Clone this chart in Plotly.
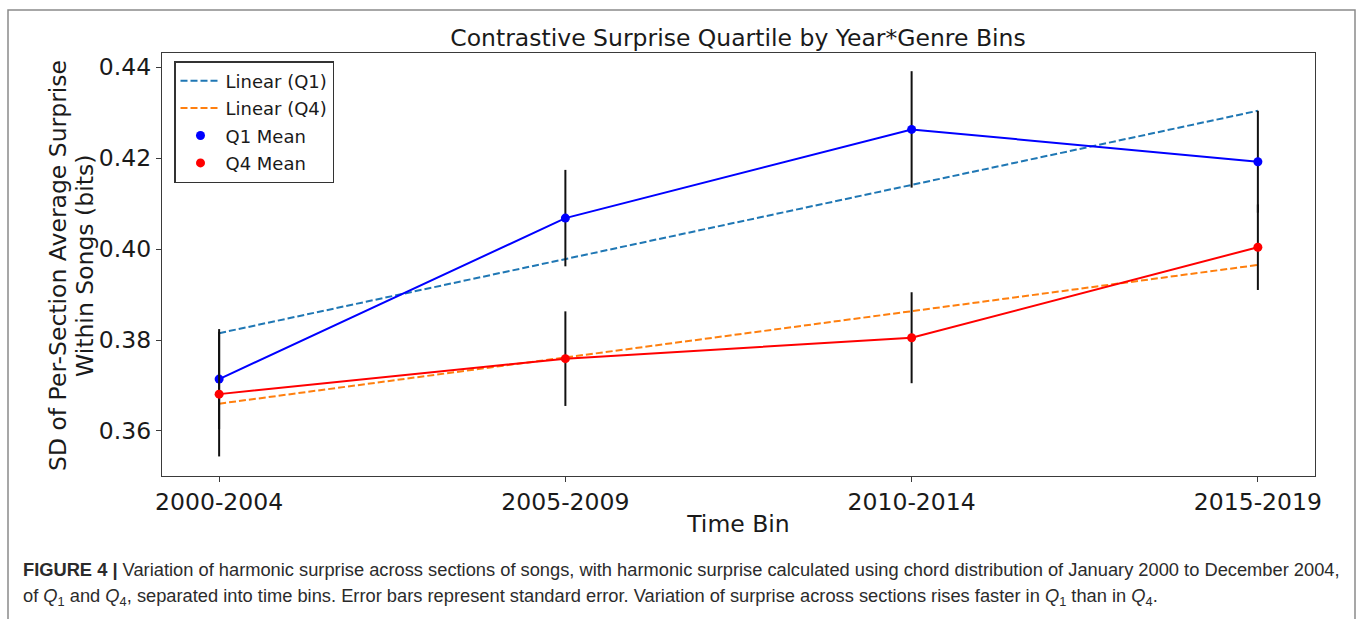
import plotly.graph_objects as go

# Time bins on the x axis
time_bins = ["2000-2004", "2005-2009", "2010-2014", "2015-2019"]

# Mean SD of per-section surprise for the first and fourth quartiles
q1_mean = [0.3714, 0.4068, 0.4263, 0.4192]
q4_mean = [0.3681, 0.3759, 0.3805, 0.4004]

# Standard errors
q1_se = [0.0110, 0.0106, 0.0128, 0.0112]
q4_se = [0.0137, 0.0104, 0.0100, 0.0094]

# Linear trend lines
q1_linear = [0.3815, 0.3978, 0.4141, 0.4304]
q4_linear = [0.3660, 0.3762, 0.3863, 0.3965]

y_ticks = [0.36, 0.38, 0.40, 0.42, 0.44]
y_title_lines = ["SD of Per-Section Average Surprise", "Within Songs (bits)"]

FONT = "DejaVu Sans"
INK = "#1a1a1a"
AXIS = "#3a3a3a"
FS = 23.5

fig = go.Figure()

fig.add_trace(go.Scatter(
    x=time_bins, y=q1_linear, mode="lines", name="Linear (Q1)",
    legendgroup="a",
    line=dict(color="#1f77b4", width=2, dash="7px,3px"),
))
fig.add_trace(go.Scatter(
    x=time_bins, y=q4_linear, mode="lines", name="Linear (Q4)",
    legendgroup="b",
    line=dict(color="#ff7f0e", width=2, dash="7px,3px"),
))

# Connecting lines for the means (not in legend)
fig.add_trace(go.Scatter(
    x=time_bins, y=q1_mean, mode="lines", showlegend=False,
    line=dict(color="#0000ff", width=2),
))
fig.add_trace(go.Scatter(
    x=time_bins, y=q4_mean, mode="lines", showlegend=False,
    line=dict(color="#ff0000", width=2),
))

# Means with standard-error bars
fig.add_trace(go.Scatter(
    x=time_bins, y=q1_mean, mode="markers", name="Q1 Mean",
    legendgroup="c",
    marker=dict(color="#0000ff", size=9),
    error_y=dict(type="data", array=q1_se, visible=True,
                 color="#111111", thickness=2, width=0),
))
fig.add_trace(go.Scatter(
    x=time_bins, y=q4_mean, mode="markers", name="Q4 Mean",
    legendgroup="d",
    marker=dict(color="#ff0000", size=9),
    error_y=dict(type="data", array=q4_se, visible=True,
                 color="#111111", thickness=2, width=0),
))

W, H = 1358, 619
ML, MR, MT, MB = 162, 43, 53, 143
PW, PH = W - ML - MR, H - MT - MB


def px_x(x):
    return (x - ML) / PW


def px_y(y):
    return (H - MB - y) / PH


fig.update_layout(
    width=W, height=H,
    margin=dict(l=ML, r=MR, t=MT, b=MB),
    paper_bgcolor="white", plot_bgcolor="white",
    font=dict(family=FONT, color=INK, size=FS),
    title=dict(
        text="Contrastive Surprise Quartile by Year*Genre Bins",
        x=px_x(738), xanchor="center", xref="paper",
        y=1 - 38 / H, yanchor="middle", yref="container",
        font=dict(family=FONT, size=FS, color=INK),
    ),
    legend=dict(
        x=px_x(174), y=px_y(61), xanchor="left", yanchor="top",
        bordercolor="#333333", borderwidth=1.5, bgcolor="white",
        font=dict(family=FONT, size=18, color=INK),
        traceorder="grouped", tracegroupgap=1, itemwidth=40,
    ),
    showlegend=True,
)

fig.update_xaxes(
    type="category", range=[-0.165, 3.165],
    showline=True, mirror=True, linecolor=AXIS, linewidth=1.2,
    ticks="outside", ticklen=5, tickcolor=AXIS, tickwidth=1,
    showgrid=False, zeroline=False,
    tickfont=dict(family=FONT, size=FS, color=INK),
    title=dict(text="Time Bin", font=dict(family=FONT, size=FS, color=INK), standoff=0),
)
fig.update_yaxes(
    range=[0.3501, 0.4431],
    tickvals=y_ticks, ticktext=[f"{v:.2f}" for v in y_ticks],
    showline=True, mirror=True, linecolor=AXIS, linewidth=1.2,
    ticks="outside", ticklen=5, tickcolor=AXIS, tickwidth=1,
    showgrid=False, zeroline=False,
    tickfont=dict(family=FONT, size=FS, color=INK),
)

# Two-line y-axis title, set as rotated text lines
for line_text, cx in zip(y_title_lines, [58, 85]):
    fig.add_annotation(
        xref="paper", yref="paper", x=px_x(cx), y=px_y(266),
        xanchor="center", yanchor="middle", showarrow=False,
        textangle=-90, text=line_text,
        font=dict(family=FONT, size=FS, color=INK),
    )

# Outer figure frame
fig.add_shape(
    type="rect", xref="paper", yref="paper",
    x0=px_x(8), x1=px_x(1355), y0=px_y(640), y1=px_y(10),
    line=dict(color="#8a8a8a", width=1.5), fillcolor="rgba(0,0,0,0)",
    layer="below",
)

CAP_FONT = dict(family="Liberation Sans", size=18.3, color="#2b2b2b")
fig.add_annotation(
    xref="paper", yref="paper", x=px_x(21), y=px_y(569),
    xanchor="left", yanchor="middle", showarrow=False, align="left",
    text="<b>FIGURE 4 |</b> Variation of harmonic surprise across sections of songs, "
         "with harmonic surprise calculated using chord distribution of January 2000 to December 2004,",
    font=CAP_FONT,
)
fig.add_annotation(
    xref="paper", yref="paper", x=px_x(21), y=px_y(597),
    xanchor="left", yanchor="middle", showarrow=False, align="left",
    text="of <i>Q</i><sub>1</sub> and <i>Q</i><sub>4</sub>, separated into time bins. "
         "Error bars represent standard error. Variation of surprise across sections "
         "rises faster in <i>Q</i><sub>1</sub> than in <i>Q</i><sub>4</sub>.",
    font=CAP_FONT,
)

fig.write_html("out.html")
